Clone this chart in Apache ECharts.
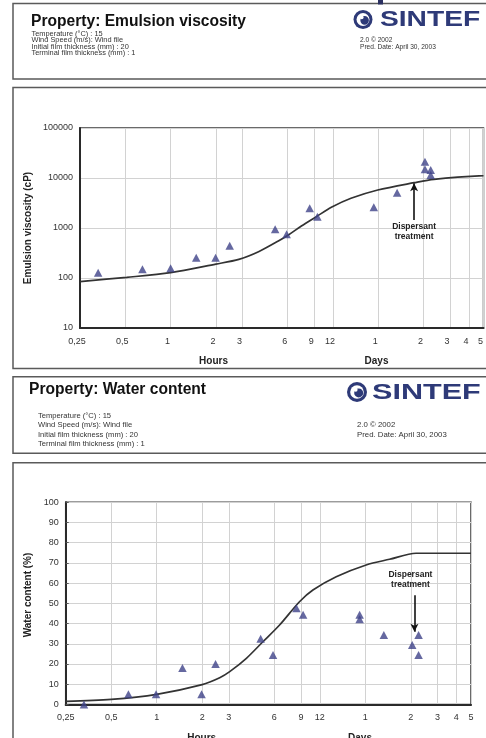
<!DOCTYPE html>
<html>
<head>
<meta charset="utf-8">
<script src="https://cdn.jsdelivr.net/npm/echarts@6/dist/echarts.min.js"></script>
<style>
  html, body { margin: 0; padding: 0; background: #ffffff; }
  #chart { width: 486px; height: 738px; }
</style>
</head>
<body>
<div id="chart"></div>
<script>
// ---- Time axis ticks (hours) and their printed labels ----
const xTickHours  = [0.25, 0.5, 1, 2, 3, 6, 9, 12, 24, 48, 72, 96, 120];
const xTickLabels = ['0,25', '0,5', '1', '2', '3', '6', '9', '12', '1', '2', '3', '4', '5'];

// ---- Emulsion viscosity (cP) ----
const viscHours    = [0.33, 0.65, 1.0, 1.48, 1.99, 2.47, 4.95, 5.9, 8.4, 9.45, 22.4, 32, 49, 49, 53.5, 53.5];
const viscMeasured = [128, 149, 156, 255, 255, 443, 940, 748, 2480, 1680, 2590, 5080, 21200, 14900, 14500, 11500];
const viscModelHours = [0.25, 0.51, 1, 2, 2.84, 3.84, 5.2, 6.06, 7.4, 9.3, 11.7, 15.8, 23.8, 41.5, 56.2, 120];
const viscModel      = [85, 103, 128, 190, 236, 336, 550, 724, 1096, 1683, 2594, 3926, 5754, 8054, 9419, 11150];
const viscDispersant = { hours: 41.5, from: 1445, to: 7834 };

// ---- Water content (%) ----
const waterHours    = [0.33, 0.65, 0.99, 1.48, 1.98, 2.45, 4.87, 5.88, 8.4, 9.3, 22, 22, 31.8, 49, 54, 54];
const waterMeasured = [0, 5, 5, 18, 5, 20, 32.5, 24.5, 47.6, 44.3, 44.3, 42.1, 34.4, 29.4, 34.4, 24.5];
const waterModelHours = [0.25, 0.5, 1, 2, 2.61, 3.04, 3.92, 5.04, 6.5, 8.8, 10.8, 15.4, 24.3, 34.7, 52, 120];
const waterModel      = [1.5, 2.5, 5, 9.8, 13.2, 16.2, 22.8, 31, 39.3, 50.8, 56.6, 63.2, 69, 71.8, 74.8, 74.8];
const waterDispersant = { hours: 50.7, from: 54, to: 36 };

// ---- Header texts ----
const viscTitle  = 'Property: Emulsion viscosity';
const waterTitle = 'Property: Water content';
const conditionLines = [
  'Temperature (°C) : 15',
  'Wind Speed (m/s): Wind file',
  'Initial film thickness (mm) : 20',
  'Terminal film thickness (mm) : 1'
];
const versionLines = ['2.0 © 2002', 'Pred. Date: April 30, 2003'];

const FONT = '"Liberation Sans", Arial, Helvetica, sans-serif';
const MARK = '#3f4288';
const BOX = '#5a5a5a';
const LOGO = '#2e3a78';

const pairs = (xs, ys) => xs.map((x, i) => [x, ys[i]]);
const tickLabel = v => {
  const i = xTickHours.findIndex(h => Math.abs(h - v) < 1e-6);
  return i >= 0 ? xTickLabels[i] : '';
};

function txt(x, y, text, font, fill, align) {
  return { type: 'text', x: x, y: y,
    style: { text: text, font: font, fill: fill || '#333',
             textAlign: align || 'left', textVerticalAlign: 'middle',
             align: align || 'left', verticalAlign: 'middle' } };
}

// Header block: frame, title, run conditions, logo and version info
function header(h) {
  const els = [
    { type: 'rect', shape: { x: 13, y: h.top, width: 500, height: h.height },
      style: { fill: 'none', stroke: BOX, lineWidth: 1.5 } },
    txt(h.titleX, h.titleY, h.title, 'bold 15.6px ' + FONT, '#111')
  ];
  conditionLines.forEach((t, i) => els.push(txt(h.lineX, h.lineYs[i], t, h.lineFont + 'px ' + FONT, '#333')));
  versionLines.forEach((t, i) => els.push(txt(h.verX, h.lineYs[i + 1], t, h.verFont + 'px ' + FONT, '#333')));
  const cx = h.logoX, cy = h.logoY, r = h.logoR;
  els.push(
    { type: 'circle', shape: { cx: cx, cy: cy, r: r }, style: { fill: LOGO } },
    { type: 'circle', shape: { cx: cx, cy: cy, r: r * 0.68 }, style: { fill: '#ffffff' } },
    { type: 'circle', shape: { cx: cx + r * 0.17, cy: cy + r * 0.09, r: r * 0.45 }, style: { fill: LOGO } },
    { type: 'circle', shape: { cx: cx - r * 0.13, cy: cy - r * 0.22, r: r * 0.19 }, style: { fill: '#ffffff' } },
    { type: 'text', x: h.logoTextX, y: cy + 0.5, scaleX: h.logoScale,
      style: { text: 'SINTEF', font: 'bold 22px ' + FONT, fill: LOGO,
               textAlign: 'left', textVerticalAlign: 'middle', align: 'left', verticalAlign: 'middle' } }
  );
  return els;
}

function axisTitle(text, x, y, rotate) {
  return { type: 'text', x: x, y: y, rotation: rotate ? Math.PI / 2 : 0,
    style: { text: text, font: 'bold 10px ' + FONT, fill: '#222',
             textAlign: 'center', textVerticalAlign: 'middle', align: 'center', verticalAlign: 'middle' } };
}

const graphics = [].concat(
  header({ top: 3.5, height: 75.5, title: viscTitle, titleX: 31, titleY: 21.5,
           lineX: 31.5, lineYs: [34, 40.4, 46.8, 53.2], lineFont: 7.4,
           verX: 360, verFont: 6.6, logoX: 363, logoY: 19.5, logoR: 9.5,
           logoTextX: 380, logoScale: 1.28 }),
  [{ type: 'rect', shape: { x: 13, y: 87.5, width: 500, height: 281 },
     style: { fill: 'none', stroke: BOX, lineWidth: 1.5 } }],
  header({ top: 376.7, height: 76.6, title: waterTitle, titleX: 29, titleY: 390,
           lineX: 38, lineYs: [415.5, 425.3, 434.6, 444], lineFont: 7.6,
           verX: 357, verFont: 7.8, logoX: 357, logoY: 392, logoR: 10,
           logoTextX: 372, logoScale: 1.39 }),
  [{ type: 'rect', shape: { x: 13, y: 462.7, width: 500, height: 300 },
     style: { fill: 'none', stroke: BOX, lineWidth: 1.5 } }],
  [{ type: 'rect', shape: { x: 378, y: 0, width: 5, height: 4.5 }, style: { fill: '#2b3060' } }],
  [
    axisTitle('Emulsion viscosity (cP)', 28, 228, true),
    axisTitle('Hours', 213.5, 361.7, false),
    axisTitle('Days', 376.5, 361.7, false),
    axisTitle('Water content (%)', 28, 595, true),
    axisTitle('Hours', 201.7, 738, false),
    axisTitle('Days', 360, 738, false)
  ]
);

function timeAxis(gridIndex, labelPad) {
  return {
    type: 'log', logBase: 2, gridIndex: gridIndex, min: 0.25, max: 120,
    axisLine: { show: true, lineStyle: { color: '#2a2a2a', width: 2 } },
    axisTick: { show: false, customValues: xTickHours },
    axisLabel: {
      customValues: xTickHours, formatter: tickLabel, margin: 9,
      fontSize: 9, fontFamily: FONT, color: '#333', padding: labelPad
    },
    splitLine: { show: true, lineStyle: { color: '#d2d2d2', width: 1 } }
  };
}

function markStyle(distance, pad) {
  return {
    silent: true, symbol: ['none', 'arrow'], symbolSize: [6, 8],
    lineStyle: { color: '#111', width: 1.6, type: 'solid' },
    label: { show: true, position: 'start', distance: distance, formatter: 'Dispersant\ntreatment',
             fontSize: 8.5, fontWeight: 'bold', fontFamily: FONT, color: '#222', lineHeight: 10,
             padding: pad }
  };
}

const viscMarks = markStyle(2, 0);
viscMarks.data = [[{ coord: [viscDispersant.hours, viscDispersant.from] },
                   { coord: [viscDispersant.hours, viscDispersant.to] }]];
const waterMarks = markStyle(6, [0, 8, 0, 0]);
waterMarks.data = [[{ coord: [waterDispersant.hours, waterDispersant.from] },
                    { coord: [waterDispersant.hours, waterDispersant.to] }]];

const option = {
  animation: false,
  backgroundColor: '#ffffff',
  grid: [
    { left: 80, top: 128, width: 406.7, height: 200, show: true, borderColor: '#3a3a3a', borderWidth: 1.5 },
    { left: 65.7, top: 502.3, width: 405.3, height: 202.1, show: true, borderColor: '#3a3a3a', borderWidth: 1.5 }
  ],
  xAxis: [timeAxis(0, [0, 6, 0, 0]), timeAxis(1, 0)],
  yAxis: [
    {
      type: 'log', logBase: 10, gridIndex: 0, min: 10, max: 100000,
      axisLine: { show: true, lineStyle: { color: '#2a2a2a', width: 2 } },
      axisTick: { show: false },
      axisLabel: { formatter: v => String(v), margin: 7, fontSize: 9, fontFamily: FONT, color: '#333' },
      splitLine: { show: true, lineStyle: { color: '#d2d2d2', width: 1 } }
    },
    {
      type: 'value', gridIndex: 1, min: 0, max: 100, interval: 10,
      axisLine: { show: true, lineStyle: { color: '#2a2a2a', width: 2 } },
      axisTick: { show: true, inside: true, length: 3, lineStyle: { color: '#555' } },
      axisLabel: { margin: 7, fontSize: 9, fontFamily: FONT, color: '#333' },
      splitLine: { show: true, lineStyle: { color: '#d2d2d2', width: 1 } }
    }
  ],
  graphic: { elements: graphics },
  series: [
    {
      type: 'line', xAxisIndex: 0, yAxisIndex: 0, name: 'Viscosity model',
      data: pairs(viscModelHours, viscModel), smooth: 0.3,
      showSymbol: false, lineStyle: { color: '#333', width: 1.7 }, z: 3
    },
    {
      type: 'scatter', xAxisIndex: 0, yAxisIndex: 0, name: 'Viscosity measured',
      data: pairs(viscHours, viscMeasured), symbol: 'triangle', symbolSize: [8.5, 8],
      itemStyle: { color: MARK }, z: 4, markLine: viscMarks
    },
    {
      type: 'line', xAxisIndex: 1, yAxisIndex: 1, name: 'Water model',
      data: pairs(waterModelHours, waterModel), smooth: 0.3,
      showSymbol: false, lineStyle: { color: '#333', width: 1.7 }, z: 3
    },
    {
      type: 'scatter', xAxisIndex: 1, yAxisIndex: 1, name: 'Water measured',
      data: pairs(waterHours, waterMeasured), symbol: 'triangle', symbolSize: [8.5, 8],
      itemStyle: { color: MARK }, z: 4, markLine: waterMarks
    }
  ]
};

const chart = echarts.init(document.getElementById('chart'), null, { renderer: 'canvas' });
chart.setOption(option);
</script>
</body>
</html>
